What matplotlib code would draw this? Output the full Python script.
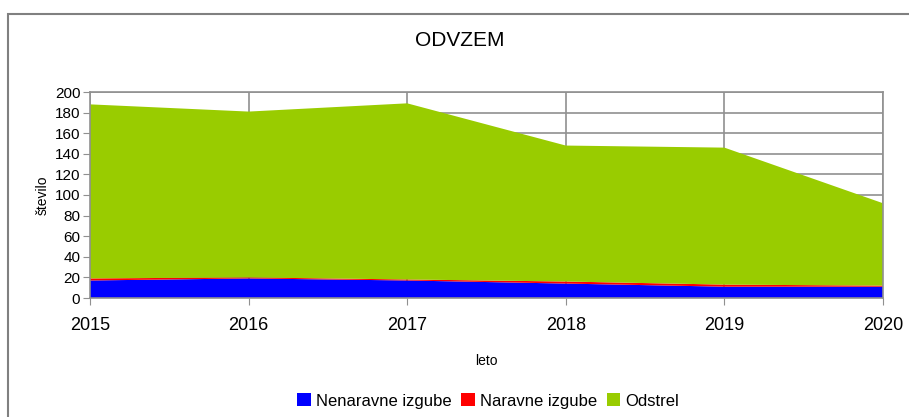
import matplotlib
matplotlib.use("Agg")
import matplotlib.pyplot as plt
from matplotlib.patches import Rectangle

plt.rcParams['font.family'] = ['Liberation Sans', 'DejaVu Sans']

leta = [2015, 2016, 2017, 2018, 2019, 2020]
nenaravne = [17, 19, 17, 14, 11, 11]
naravne = [2, 1, 1, 2, 2, 1]
odstrel = [169, 161, 171, 132, 133, 80]

W, H = 909, 417
fig = plt.figure(figsize=(W / 100, H / 100), dpi=100)

# outer chart frame
fig.patches.append(Rectangle((8 / W, -0.1), 1.1, (H - 14) / H + 0.1,
                             transform=fig.transFigure, fill=False,
                             edgecolor='#808080', linewidth=1.5))

ax = fig.add_axes([90 / W, (H - 298) / H, 793 / W, 206 / H])
ax.stackplot(leta, nenaravne, naravne, odstrel,
             colors=['#0000ff', '#ff0000', '#99cc00'],
             labels=['Nenaravne izgube', 'Naravne izgube', 'Odstrel'],
             zorder=2)

ax.set_xlim(2015, 2020)
ax.set_ylim(0, 200)
ax.set_yticks(range(0, 201, 20))
ax.set_xticks(leta)
ax.grid(True, color='#909090', linewidth=1.2, zorder=1)
ax.set_axisbelow(True)
for s in ax.spines.values():
    s.set_color('#909090')
    s.set_linewidth(1.2)
ax.tick_params(axis='y', labelsize=11, length=5, color='#909090', pad=2)
ax.tick_params(axis='x', labelsize=13, length=5, color='#909090', pad=9)

ax.set_ylabel('število', fontsize=10, labelpad=4)
ax.set_xlabel('leto', fontsize=10, labelpad=14)
fig.text(460 / W, 1 - 40 / H, 'ODVZEM', ha='center', va='center', fontsize=15)

fig.legend(loc='center', bbox_to_anchor=(488 / W, 1 - 401 / H), ncol=3,
           frameon=False, fontsize=12, handlelength=0.8, handleheight=0.8,
           handletextpad=0.3, columnspacing=0.6)

fig.savefig('out.png', dpi=100)
